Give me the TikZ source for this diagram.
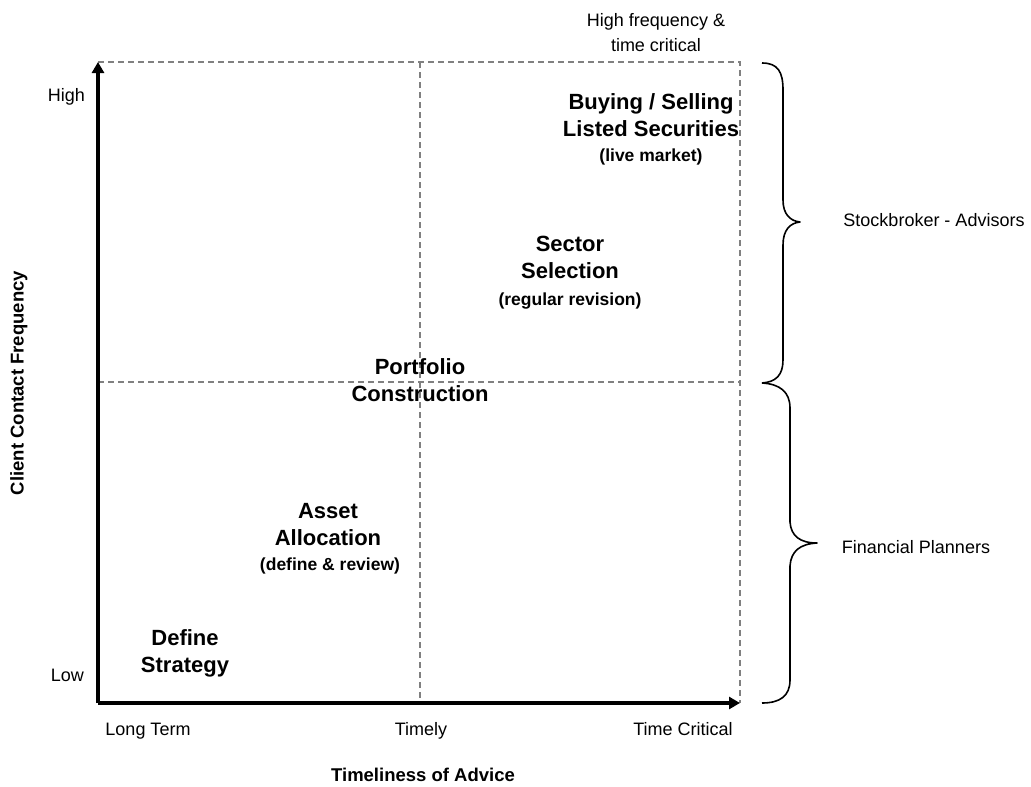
\documentclass[tikz,border=0pt]{standalone}
\usepackage{fontspec}
\setmainfont{Liberation Sans}
\usetikzlibrary{arrows.meta}
\begin{document}
\begin{tikzpicture}[x=1pt,y=-1pt,
  axis/.style={line width=4pt,-{Triangle[width=12pt,length=11pt]}},
  grid/.style={draw=black!50,line width=1.8pt,dash pattern=on 6pt off 4pt},
  bracepath/.style={line width=1.6pt,line join=round},
  lbl/.style={font=\fontsize{18}{20}\selectfont,inner sep=0pt,text height=.72em,text depth=0pt,yshift=-2pt},
  big/.style={font=\fontsize{22}{27}\selectfont\bfseries,align=center,inner sep=0pt},
  sub/.style={font=\fontsize{17.5}{18}\selectfont\bfseries,inner sep=0pt,text height=.72em,text depth=0pt,yshift=-1.5pt},
  title/.style={font=\fontsize{18.5}{20}\selectfont\bfseries,inner sep=0pt,text height=.72em,text depth=0pt}]
\useasboundingbox (0,0) rectangle (1031,787);
% corner coordinates
\coordinate (O) at (98,703);
\coordinate (YT) at (98,62);
\coordinate (XR) at (740,703);
\coordinate (TL) at (98,62);
\coordinate (TR) at (740,62);
\coordinate (TM) at (420,62);
\coordinate (BM) at (420,703);
\coordinate (ML) at (98,382);
\coordinate (MR) at (740,382);
% dashed grid
\draw[grid] (TL) -- (TR) -- (XR);
\draw[grid] (TM) -- (BM);
\draw[grid] (ML) -- (MR);
% axes
\draw[axis] (O) -- (YT);
\draw[axis] (O) -- (XR);
% braces
\draw[bracepath] (762,63) .. controls (778,63) and (783,72) .. (783,90)
  -- (783,200) .. controls (783,214) and (790,221) .. (800,222)
  .. controls (790,223) and (783,230) .. (783,245)
  -- (783,360) .. controls (783,375) and (776,382) .. (762,383);
\draw[bracepath] (762,383) .. controls (780,384) and (790,392) .. (790,408)
  -- (790,522) .. controls (791,536) and (800,543) .. (817,543)
  .. controls (800,544) and (791,551) .. (790,566)
  -- (790,680) .. controls (790,696) and (780,703) .. (762,703);
% axis labels
\node[lbl,anchor=east] (hi) at (85,96) {High};
\node[lbl,anchor=east] (lo) at (84,676) {Low};
\node[lbl] (lt) at (148,730) {Long Term};
\node[lbl] (tm) at (421,730) {Timely};
\node[lbl] (tc) at (683,730) {Time Critical};
\node[title,yshift=-2pt] (xt) at (423,776) {Timeliness of Advice};
\node[title,rotate=90] (yt) at (20,383) {Client Contact Frequency};
\node[align=center,inner sep=0pt,font=\fontsize{18}{25}\selectfont] (hf) at (656,33) {High frequency \&\\time critical};
\node[lbl] (sa) at (934,221) {Stockbroker - Advisors};
\node[lbl] (fp) at (916,548) {Financial Planners};
% quadrant labels
\node[big] (bs) at (651,115.5) {Buying / Selling\\Listed Securities};
\node[sub] (lm) at (651,156) {(live market)};
\node[big] (ss) at (570,257.5) {Sector\\Selection};
\node[sub] (rr) at (570,300) {(regular revision)};
\node[big] (pc) at (420,380) {Portfolio\\Construction};
\node[big] (aa) at (328,525) {Asset\\Allocation};
\node[sub] (dr) at (330,565) {(define \& review)};
\node[big] (ds) at (185,653) {Define\\Strategy};
\end{tikzpicture}
\end{document}
